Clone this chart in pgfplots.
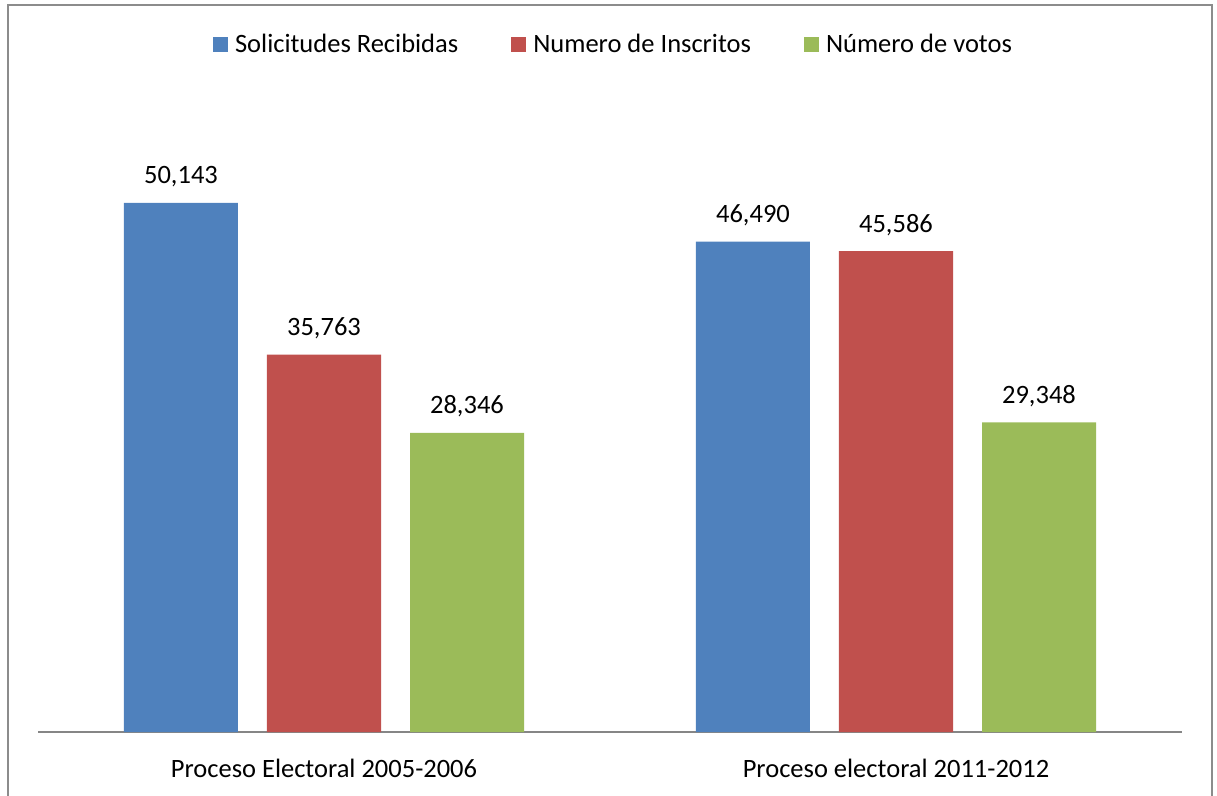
\documentclass[border=0pt]{standalone}
\usepackage{pgfplots}
\pgfplotsset{compat=1.18}
\usepackage{fontspec}
\setmainfont{Carlito}
\definecolor{cblue}{HTML}{4F81BD}
\definecolor{cred}{HTML}{C0504D}
\definecolor{cgreen}{HTML}{9BBB59}
\definecolor{caxis}{HTML}{868686}
\definecolor{cframe}{HTML}{8C8C8C}
\begin{document}
\begin{tikzpicture}[x=1pt,y=1pt]
\useasboundingbox (0,0) rectangle (1217,795);
\draw[cframe, line width=2pt] (8,-10) -- (8,790) -- (1211.5,790) -- (1211.5,-10);
\begin{axis}[
  at={(38pt,63pt)}, anchor=south west,
  scale only axis, width=1144pt, height=633pt,
  xmin=-0.5, xmax=1.5, ymin=0, ymax=60000,
  ybar=29pt, bar width=114pt,
  axis y line=none, axis x line*=bottom,
  x axis line style={caxis, line width=1.5pt, -},
  xtick={0,1}, major tick length=0pt,
  xticklabels={Proceso Electoral 2005-2006, Proceso electoral 2011-2012},
  xticklabel style={anchor=base, yshift=-45pt, font=\fontsize{26.5}{30}\selectfont},
  /pgf/number format/assume math mode=true,
  /pgf/number format/.cd, 1000 sep={,}, fixed, precision=0, /pgfplots/.cd,
  nodes near coords,
  every node near coord/.append style={anchor=base, yshift=19pt, inner sep=0pt, font=\fontsize{26.5}{30}\selectfont, text=black},
  legend style={at={(axis description cs:0.5,1)}, anchor=center, yshift=54.5pt, xshift=6pt,
    draw=none, fill=none, font=\fontsize{26.5}{30}\selectfont,
    legend columns=3,
    /tikz/every even column/.append style={column sep=46pt},
    nodes={inner xsep=7pt}},
  legend image code/.code={\fill[#1,draw=none] (0pt,-7.5pt) rectangle (15pt,7.5pt);},
]
\addplot[fill=cblue, draw=none] coordinates {(0,50143) (1,46490)};
\addplot[fill=cred, draw=none] coordinates {(0,35763) (1,45586)};
\addplot[fill=cgreen, draw=none] coordinates {(0,28346) (1,29348)};
\legend{Solicitudes Recibidas, Numero de Inscritos, Número de votos}
\end{axis}
\end{tikzpicture}
\end{document}
